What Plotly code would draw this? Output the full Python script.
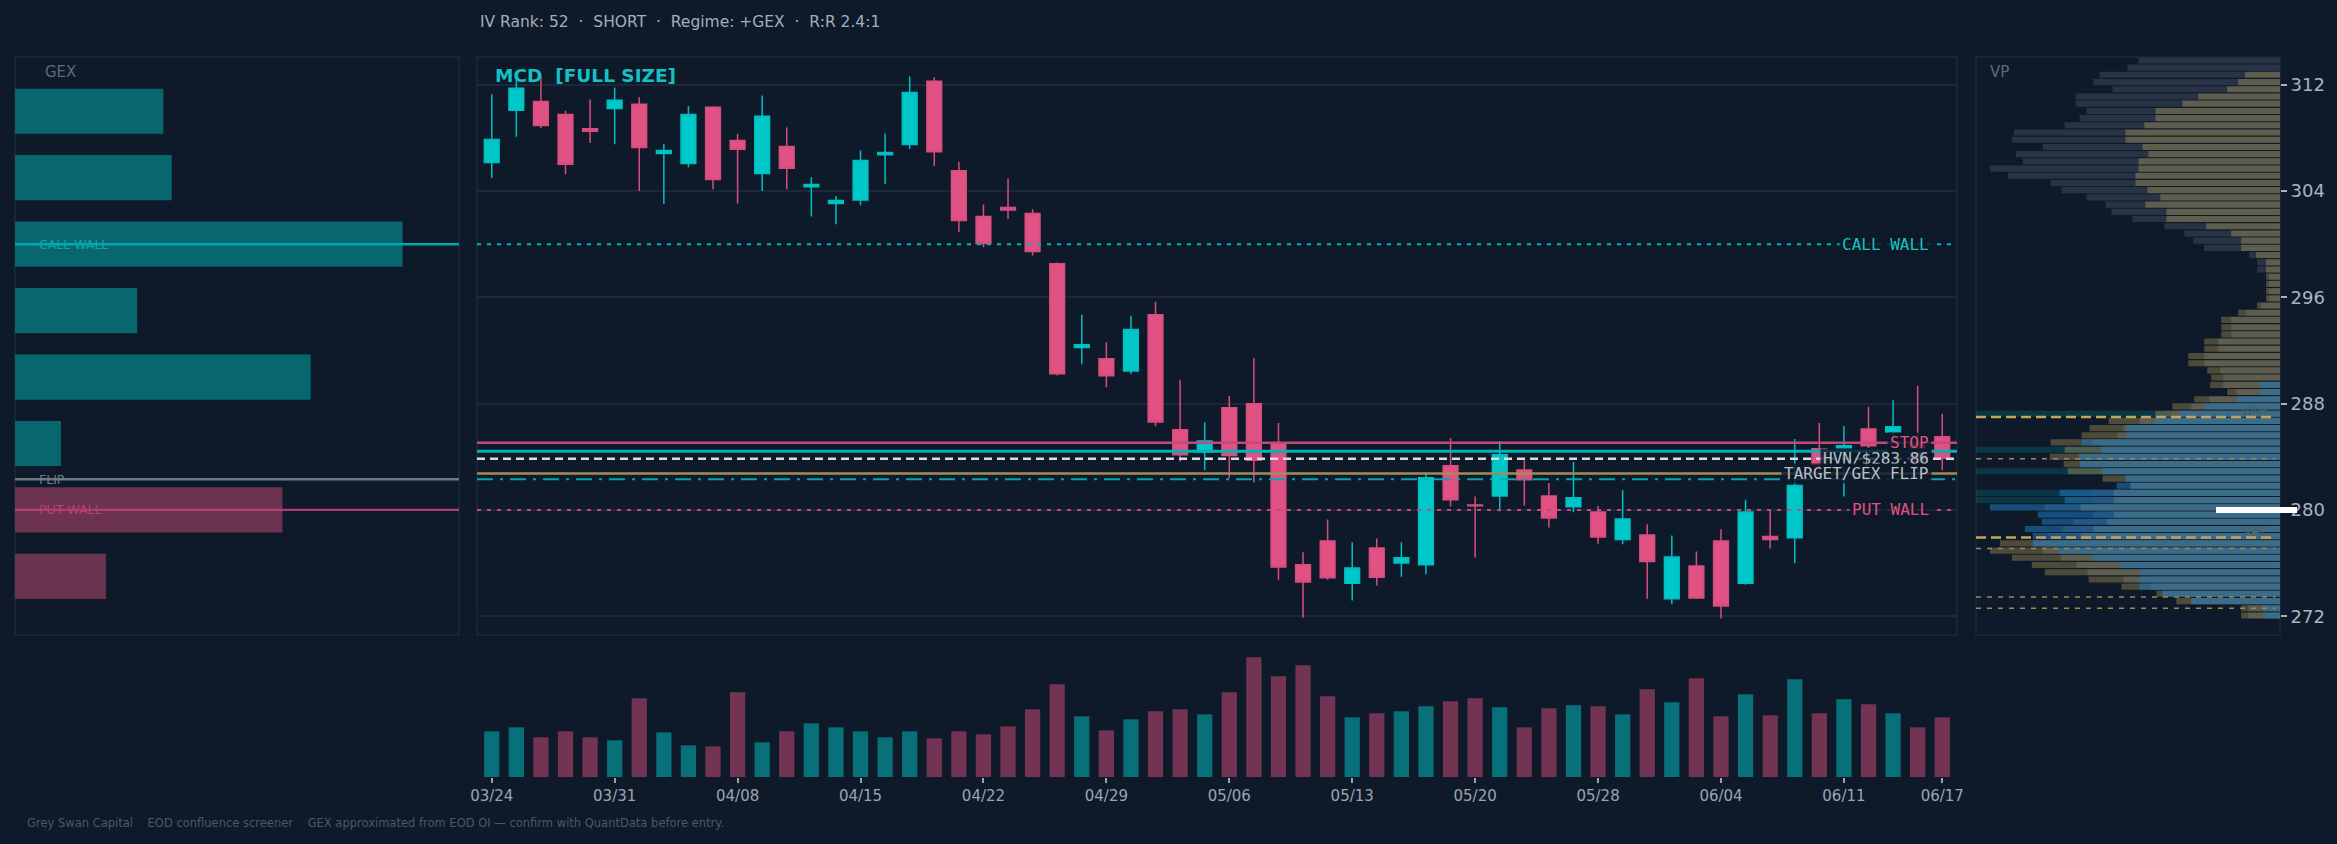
import plotly.graph_objects as go

W, H = 2337, 844
BG = "#0e1a2a"

# ---------------- data ----------------
dates = ["03/24", "03/25", "03/26", "03/27", "03/28",
         "03/31", "04/01", "04/02", "04/04", "04/07",
         "04/08", "04/09", "04/10", "04/11", "04/14",
         "04/15", "04/16", "04/17", "04/18", "04/21",
         "04/22", "04/23", "04/24", "04/25", "04/28",
         "04/29", "04/30", "05/01", "05/02", "05/05",
         "05/06", "05/07", "05/08", "05/09", "05/12",
         "05/13", "05/14", "05/15", "05/16", "05/19",
         "05/20", "05/21", "05/22", "05/23", "05/27",
         "05/28", "05/29", "05/30", "06/02", "06/03",
         "06/04", "06/05", "06/06", "06/09", "06/10",
         "06/11", "06/12", "06/13", "06/16", "06/17"]

opens = [306.15, 310.07, 310.74, 309.76, 308.69, 310.21, 310.52, 306.82, 306.06, 310.29,
         307.80, 305.31, 307.35, 304.32, 303.06, 303.32, 306.73, 307.49, 312.25, 305.53,
         302.08, 302.76, 302.31, 298.53, 292.22, 291.38, 290.46, 294.69, 286.03, 284.38,
         287.69, 287.99, 285.00, 275.87, 277.66, 274.49, 277.13, 276.01, 275.87, 283.32,
         280.38, 281.05, 283.01, 281.05, 280.24, 279.84, 277.77, 278.11, 273.32, 275.78,
         277.66, 274.49, 278.00, 277.91, 284.60, 284.66, 286.09, 285.87, 284.90, 285.50]
highs = [311.27, 312.59, 312.73, 310.04, 310.88, 311.78, 311.05, 307.55, 310.38, 310.38,
         308.30, 311.19, 308.78, 305.03, 303.62, 307.04, 308.33, 312.62, 312.56, 306.20,
         302.98, 304.94, 302.62, 298.61, 294.69, 292.59, 294.61, 295.67, 289.76, 286.59,
         288.58, 291.44, 286.54, 276.82, 279.28, 277.57, 277.85, 277.57, 282.84, 285.42,
         281.02, 285.19, 283.74, 282.03, 283.60, 280.29, 281.50, 278.92, 278.08, 276.87,
         278.55, 280.77, 280.01, 285.33, 286.54, 286.31, 287.77, 288.25, 289.34, 287.24]
lows = [304.97, 308.08, 308.72, 305.28, 307.60, 307.52, 303.99, 303.01, 305.78, 304.13,
        303.06, 303.99, 304.13, 302.08, 301.50, 302.92, 304.52, 307.15, 305.87, 300.91,
        299.76, 301.89, 299.14, 290.12, 290.96, 289.23, 290.21, 286.29, 283.65, 282.98,
        282.39, 282.06, 274.75, 271.89, 274.75, 273.18, 274.32, 274.97, 275.17, 280.26,
        276.43, 279.90, 280.32, 278.67, 279.82, 277.46, 277.41, 273.32, 272.90, 273.29,
        271.83, 274.38, 277.10, 275.98, 282.50, 281.02, 284.66, 285.20, 283.00, 282.98]
closes = [307.88, 311.72, 308.92, 306.01, 308.50, 310.82, 307.27, 307.04, 309.76, 304.86,
          307.13, 309.62, 305.70, 304.49, 303.29, 306.29, 306.90, 311.41, 306.96, 301.78,
          300.04, 302.56, 299.45, 290.24, 292.42, 290.10, 293.57, 286.62, 284.16, 285.19,
          284.10, 283.74, 275.70, 274.58, 274.89, 275.64, 274.94, 276.40, 282.42, 280.77,
          280.32, 284.16, 282.28, 279.39, 280.91, 277.97, 279.31, 276.12, 276.45, 273.38,
          272.78, 279.84, 277.77, 281.83, 283.40, 284.83, 284.83, 286.26, 283.60, 283.88]
volumes_m = [2.74, 2.98, 2.38, 2.74, 2.38, 2.20, 4.72, 2.68, 1.90, 1.84,
             5.08, 2.08, 2.74, 3.22, 2.98, 2.74, 2.38, 2.74, 2.32, 2.74,
             2.56, 3.04, 4.06, 5.56, 3.64, 2.80, 3.46, 3.94, 4.06, 3.76,
             5.08, 7.18, 6.04, 6.70, 4.84, 3.58, 3.82, 3.94, 4.24, 4.54,
             4.72, 4.18, 2.98, 4.12, 4.30, 4.24, 3.76, 5.26, 4.48, 5.92,
             3.64, 4.96, 3.70, 5.86, 3.82, 4.66, 4.36, 3.82, 2.98, 3.58]
tick_dates = ["03/24", "03/31", "04/08", "04/15", "04/22", "04/29", "05/06",
              "05/13", "05/20", "05/28", "06/04", "06/11", "06/17"]

gex_strikes = [310, 305, 300, 295, 290, 285, 280, 275]
gex_values = [1.42, 1.50, 3.71, 1.17, 2.83, 0.44, -2.56, -0.87]

call_wall = 300.0
put_wall = 280.0
gex_flip = 282.3
stop_level = 285.05
entry_level = 284.42
hvn_level = 283.86
target_level = 282.74

price_ticks = [272, 280, 288, 296, 304, 312]

# volume profile rows (bottom -> top)
vp_prices = [272.06, 272.60, 273.14, 273.69, 274.23, 274.77, 275.31, 275.86, 276.40, 276.94,
             277.48, 278.03, 278.57, 279.11, 279.65, 280.19, 280.74, 281.28, 281.82, 282.36,
             282.91, 283.45, 283.99, 284.53, 285.08, 285.62, 286.16, 286.70, 287.24, 287.79,
             288.33, 288.87, 289.41, 289.96, 290.50, 291.04, 291.58, 292.13, 292.67, 293.21,
             293.75, 294.30, 294.84, 295.38, 295.92, 296.46, 297.01, 297.55, 298.09, 298.63,
             299.18, 299.72, 300.26, 300.80, 301.35, 301.89, 302.43, 302.97, 303.52, 304.06,
             304.60, 305.14, 305.68, 306.23, 306.77, 307.31, 307.85, 308.40, 308.94, 309.48,
             310.02, 310.57, 311.11, 311.65, 312.19, 312.74, 313.28, 313.82]
vp_total = [96, 96, 267, 354, 390, 471, 579, 612, 660, 714,
            744, 696, 654, 621, 561, 708, 558, 567, 450, 465,
            534, 603, 606, 537, 564, 489, 471, 423, 330, 267,
            213, 132, 171, 171, 180, 228, 228, 186, 186, 147,
            147, 147, 102, 57, 33, 33, 33, 33, 69, 69,
            93, 228, 261, 288, 348, 444, 507, 525, 582, 657,
            690, 819, 873, 774, 795, 714, 807, 801, 648, 603,
            582, 615, 615, 504, 561, 543, 459, 426]
vp_gold = [117, 117, 312, 372, 477, 576, 708, 747, 807, 873,
           843, 600, 560, 520, 500, 600, 500, 500, 450, 534,
           639, 651, 693, 648, 690, 597, 573, 516, 375, 324,
           258, 159, 210, 207, 219, 276, 276, 228, 228, 177,
           177, 177, 126, 69, 42, 42, 42, 42, 42, 42,
           72, 117, 117, 147, 222, 342, 342, 405, 360, 399,
           435, 435, 426, 426, 396, 414, 465, 465, 408, 375,
           375, 294, 246, 159, 126, 105, 0, 0]
vp_recent = [51, 51, 267, 354, 423, 423, 423, 483, 567, 666,
             744, 744, 768, 717, 729, 873, 648, 663, 492, 465,
             534, 603, 606, 537, 597, 462, 462, 378, 303, 228,
             129, 60, 60, 0, 0, 0, 0, 0, 0, 0,
             0, 0, 0, 0, 0, 0, 0, 0, 0, 0,
             0, 0, 0, 0, 0, 0, 0, 0, 0, 0,
             0, 0, 0, 0, 0, 0, 0, 0, 0, 0,
             0, 0, 0, 0, 0, 0, 0, 0]
vp_band_prices = [280.74, 281.28, 282.91, 284.53, 287.24]
vp_max = 915
vah = 287.0
val = 277.93
vp_minor_levels = [283.85, 277.10, 273.45, 272.60]
poc_marker = 280.0

# ---------------- layout helpers ----------------
def px_x(p):
    return p / W


def px_y(p):
    return 1 - p / H


Y_RANGE = [270.59, 314.08]
PANEL_Y = [px_y(635), px_y(57)]
GEX_X = [px_x(15), px_x(459)]
MAIN_X = [px_x(477), px_x(1957)]
VP_X = [px_x(1976), px_x(2280)]
VOL_Y = [px_y(777), px_y(650)]

UP = "#00c8c8"
DOWN = "#e05283"
VOL_UP = "#077078"
VOL_DOWN = "#733352"

fig = go.Figure()

# GEX bars
fig.add_trace(go.Bar(
    y=gex_strikes, x=[abs(v) for v in gex_values], orientation="h",
    width=3.4, marker=dict(color=["#08666e" if v > 0 else "#6b3350" for v in gex_values], line=dict(width=0)),
    xaxis="x", yaxis="y", hoverinfo="skip"))

# candlesticks
fig.add_trace(go.Candlestick(
    x=dates, open=opens, high=highs, low=lows, close=closes,
    increasing=dict(line=dict(color="#00bfc2", width=1.5), fillcolor=UP),
    decreasing=dict(line=dict(color="#d84d7e", width=1.5), fillcolor=DOWN),
    whiskerwidth=0, xaxis="x2", yaxis="y2", hoverinfo="skip"))

# volume
fig.add_trace(go.Bar(
    x=dates, y=volumes_m, width=0.62,
    marker=dict(color=[VOL_UP if c >= o else VOL_DOWN for o, c in zip(opens, closes)], line=dict(width=0)),
    xaxis="x4", yaxis="y4", hoverinfo="skip"))

# volume profile layers
fig.add_trace(go.Bar(
    y=vp_band_prices, x=[vp_max] * len(vp_band_prices), orientation="h", width=0.46,
    marker=dict(color="rgba(0,150,160,0.24)", line=dict(width=0)),
    xaxis="x3", yaxis="y3", hoverinfo="skip"))
fig.add_trace(go.Bar(
    y=vp_prices, x=vp_total, orientation="h", width=0.46,
    marker=dict(color="#283446", line=dict(width=0)),
    xaxis="x3", yaxis="y3", hoverinfo="skip"))
fig.add_trace(go.Bar(
    y=vp_prices, x=vp_gold, orientation="h", width=0.46,
    marker=dict(color="rgba(230,195,95,0.29)", line=dict(width=0)),
    xaxis="x3", yaxis="y3", hoverinfo="skip"))
fig.add_trace(go.Bar(
    y=vp_prices, x=vp_recent, orientation="h", width=0.46,
    marker=dict(color="rgba(30,120,190,0.55)", line=dict(width=0)),
    xaxis="x3", yaxis="y3", hoverinfo="skip"))

shapes = []
# panel borders
for xd in (GEX_X, MAIN_X, VP_X):
    shapes.append(dict(type="rect", xref="paper", yref="paper", x0=xd[0], x1=xd[1],
                       y0=PANEL_Y[0], y1=PANEL_Y[1], line=dict(color="#1c2a3a", width=1.5),
                       fillcolor="rgba(0,0,0,0)", layer="below"))

# GEX panel lines
for lvl, col, wd in ((call_wall, "#00a9ae", 2.5), (gex_flip, "#6b7785", 2.5), (put_wall, "#b0416e", 2.2)):
    shapes.append(dict(type="line", xref="x domain", yref="y", x0=0, x1=1, y0=lvl, y1=lvl,
                       line=dict(color=col, width=wd), layer="above"))

# main panel lines
main_lines = [
    (call_wall, "#00b3b8", 2, "4px,6px"),
    (stop_level, "#c2497a", 2.5, "solid"),
    (entry_level, "#00b4b8", 3, "solid"),
    (hvn_level, "#d8dce0", 2.5, "8px,5px"),
    (target_level, "#a38d55", 2.5, "solid"),
    (gex_flip, "#00a8b2", 2, "16px,7px,3px,7px"),
    (put_wall, "#c2497a", 2, "4px,6px"),
]
for lvl, col, wd, dash in main_lines:
    shapes.append(dict(type="line", xref="x2 domain", yref="y2", x0=0, x1=1, y0=lvl, y1=lvl,
                       line=dict(color=col, width=wd, dash=dash), layer="above"))

# VP lines
for lvl in (vah, val):
    shapes.append(dict(type="line", xref="x3 domain", yref="y3", x0=0, x1=0.985, y0=lvl, y1=lvl,
                       line=dict(color="#c2a55c", width=2.5, dash="10px,5px"), layer="above"))
for lvl in vp_minor_levels:
    shapes.append(dict(type="line", xref="x3 domain", yref="y3", x0=0, x1=0.985, y0=lvl, y1=lvl,
                       line=dict(color="#9c8852", width=1.5, dash="5px,6px"), layer="above"))
shapes.append(dict(type="line", xref="paper", yref="y3", x0=px_x(2216), x1=px_x(2297),
                   y0=poc_marker, y1=poc_marker, line=dict(color="#ffffff", width=6), layer="above"))

annotations = []
MONO = "DejaVu Sans Mono"
label_bg = "rgba(14,26,42,0.82)"
for text, lvl, col in (("CALL WALL", call_wall, "#19c3c3"),
                       ("STOP", stop_level, "#e05283"),
                       ("HVN/$283.86", hvn_level, "#b8c0c8"),
                       ("TARGET/GEX FLIP", target_level, "#b8c0c8"),
                       ("PUT WALL", put_wall, "#e05283")):
    annotations.append(dict(text=text, xref="x2 domain", yref="y2", x=0.9831, y=lvl,
                            xanchor="right", yanchor="middle", showarrow=False,
                            font=dict(family=MONO, size=16, color=col),
                            bgcolor=label_bg, borderpad=2, height=15, valign="middle"))

for text, lvl, col in (("CALL WALL", call_wall, "#0fa6aa"),
                       ("FLIP", gex_flip, "#6f7b88"),
                       ("PUT WALL", put_wall, "#b8416f")):
    annotations.append(dict(text=text, xref="x domain", yref="y", x=0.0495, y=lvl,
                            xanchor="left", yanchor="middle", showarrow=False,
                            font=dict(size=12.5, color=col)))

annotations += [
    dict(text="IV Rank: 52\u00a0\u00a0·\u00a0\u00a0SHORT\u00a0\u00a0·\u00a0\u00a0Regime: +GEX\u00a0\u00a0·\u00a0\u00a0R:R 2.4:1",
         xref="paper", yref="paper", x=px_x(478), y=px_y(22), xanchor="left", yanchor="middle",
         showarrow=False, font=dict(size=15.5, color="#a3aebb")),
    dict(text="<b>MCD\u00a0\u00a0[FULL SIZE]</b>", xref="paper", yref="paper", x=px_x(493), y=px_y(75),
         xanchor="left", yanchor="middle", showarrow=False, font=dict(size=18.5, color="#14c1c3")),
    dict(text="GEX", xref="paper", yref="paper", x=px_x(43), y=px_y(72), xanchor="left",
         yanchor="middle", showarrow=False, font=dict(size=15, color="#5d6a77")),
    dict(text="VP", xref="paper", yref="paper", x=px_x(1988), y=px_y(72), xanchor="left",
         yanchor="middle", showarrow=False, font=dict(size=15, color="#5d6a77")),
    dict(text="VAH", xref="x3 domain", yref="y3", x=0.967, y=287.45, xanchor="right",
         yanchor="middle", showarrow=False, font=dict(size=13, color="#4a6262")),
    dict(text="VAL", xref="x3 domain", yref="y3", x=0.967, y=278.45, xanchor="right",
         yanchor="middle", showarrow=False, font=dict(size=13, color="#4a6262")),
    dict(text="Grey Swan Capital\u00a0\u00a0\u00a0\u00a0EOD confluence screener\u00a0\u00a0\u00a0\u00a0GEX approximated from EOD OI — confirm with QuantData before entry.",
         xref="paper", yref="paper", x=px_x(25), y=px_y(823), xanchor="left", yanchor="middle",
         showarrow=False, font=dict(size=11.5, color="#4b5866")),
]

common_y = dict(range=Y_RANGE, domain=PANEL_Y, zeroline=False, showgrid=False, fixedrange=True,
                automargin=False)

fig.update_layout(
    width=W, height=H, margin=dict(l=0, r=0, t=0, b=0, pad=0), autosize=False,
    paper_bgcolor=BG, plot_bgcolor="rgba(0,0,0,0)",
    font=dict(family="DejaVu Sans", color="#a9b4c0"),
    showlegend=False, hovermode=False, barmode="overlay",
    boxgap=0.4, boxgroupgap=0,
    xaxis=dict(domain=GEX_X, range=[0, 4.25], visible=False, anchor="y", automargin=False),
    yaxis=dict(**common_y, anchor="x", showticklabels=False),
    xaxis2=dict(domain=MAIN_X, type="category", categoryorder="array", categoryarray=dates,
                range=[-0.6, 59.6], showticklabels=False, showgrid=False, zeroline=False,
                rangeslider=dict(visible=False), anchor="y2", ticks="", automargin=False),
    yaxis2=dict(range=Y_RANGE, domain=PANEL_Y, zeroline=False, anchor="x2",
                tickvals=price_ticks, showticklabels=False, showgrid=True,
                gridcolor="#1b2838", gridwidth=1.5, ticks="", automargin=False),
    xaxis3=dict(domain=VP_X, range=[vp_max, 0], visible=False, anchor="y3", automargin=False),
    yaxis3=dict(**common_y, anchor="x3", side="right", tickvals=price_ticks,
                ticks="outside", ticklen=6, tickwidth=2, tickcolor="#a9b4c0",
                tickfont=dict(size=18, color="#a9b4c0"), showline=False),
    xaxis4=dict(domain=MAIN_X, type="category", categoryorder="array", categoryarray=dates,
                range=[-0.6, 59.6], tickvals=tick_dates, ticks="outside", ticklen=5,
                tickwidth=1.5, tickcolor="#9aa5b1", tickfont=dict(size=15, color="#9aa5b1"),
                showgrid=False, zeroline=False, showline=False, anchor="y4", automargin=False),
    yaxis4=dict(domain=VOL_Y, range=[0, 7.62], visible=False, anchor="x4", fixedrange=True,
                automargin=False),
    shapes=shapes, annotations=annotations,
)

fig.write_html("out.html")
